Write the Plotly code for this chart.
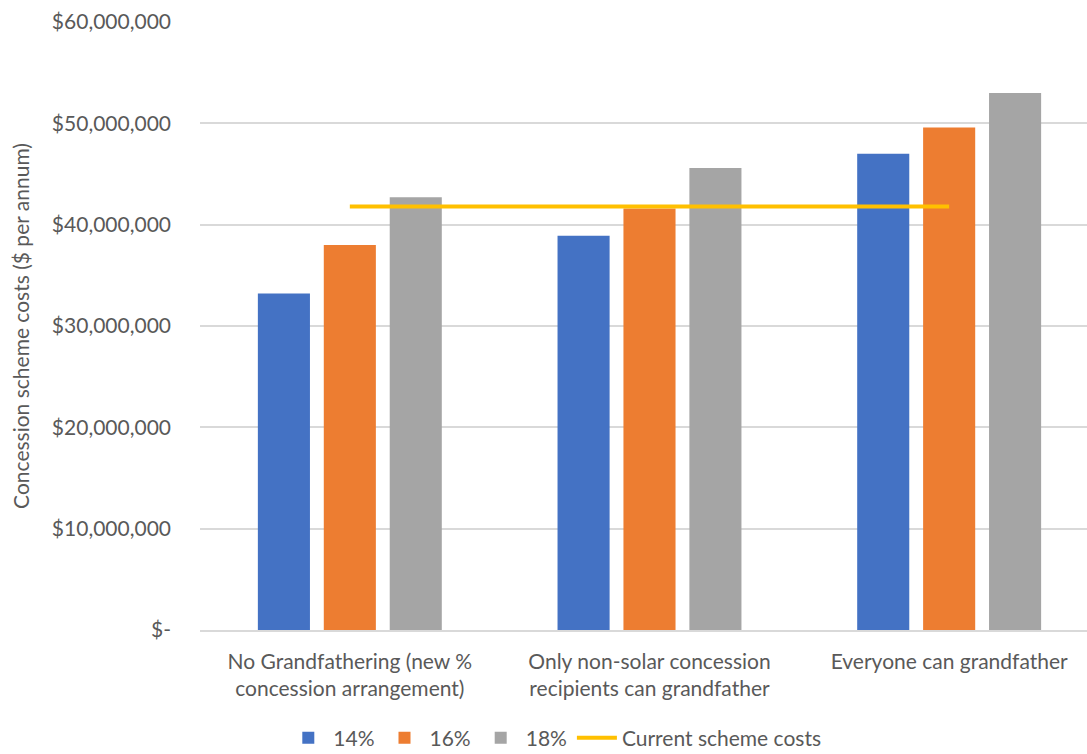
import plotly.graph_objects as go

categories = [
    "No Grandfathering (new %<br>concession arrangement)",
    "Only non-solar concession<br>recipients can grandfather",
    "Everyone can grandfather",
]
series_names = ["14%", "16%", "18%"]
values_14 = [33.2e6, 38.9e6, 47.0e6]
values_16 = [38.0e6, 41.6e6, 49.6e6]
values_18 = [42.7e6, 45.6e6, 53.0e6]
current_scheme = [41.8e6, 41.8e6, 41.8e6]
tick_vals = [0, 10e6, 20e6, 30e6, 40e6, 50e6, 60e6]
tick_text = ["$-", "$10,000,000", "$20,000,000", "$30,000,000",
             "$40,000,000", "$50,000,000", "$60,000,000"]

colors = ["#4472C4", "#ED7D31", "#A5A5A5"]
font = "Lato"
fs = 21
x_idx = list(range(len(categories)))

fig = go.Figure()
for name, vals, c in zip(series_names, [values_14, values_16, values_18], colors):
    fig.add_trace(go.Bar(x=x_idx, y=vals, name=name, marker_color=c,
                         marker_line_width=0))
fig.add_trace(go.Scatter(x=x_idx, y=current_scheme, name="Current scheme costs",
                         mode="lines", line=dict(color="#FFC000", width=4)))

fig.update_layout(
    width=1087, height=754,
    margin=dict(l=200, r=0, t=22, b=124, autoexpand=False),
    paper_bgcolor="white", plot_bgcolor="white",
    barmode="group", bargap=0.34, bargroupgap=0.21,
    font=dict(family=font, size=fs, color="#595959"),
    showlegend=True,
    legend=dict(orientation="h", x=0.40, xanchor="center", y=-0.178, yanchor="middle",
                font=dict(size=fs, color="#595959"), itemwidth=40, traceorder="normal",
                tracegroupgap=0),
    xaxis=dict(range=[-0.5, 2.46], tickmode="array", tickvals=x_idx, ticktext=categories,
               showgrid=False, zeroline=False, showline=True, linecolor="#D9D9D9",
               linewidth=1.5, ticks="", ticklabelstandoff=12,
               tickfont=dict(size=fs, color="#595959"), automargin=False),
    yaxis=dict(range=[0, 60e6], tickmode="array", tickvals=tick_vals, ticktext=tick_text,
               showgrid=True, gridcolor="#D9D9D9", gridwidth=1.5, zeroline=False,
               showline=False, ticks="", ticklabelstandoff=28, automargin=False,
               title=dict(text="Concession scheme costs ($ per annum)", standoff=16,
                          font=dict(size=fs, color="#595959")),
               tickfont=dict(size=fs, color="#595959")),
)
fig.write_html("out.html")
